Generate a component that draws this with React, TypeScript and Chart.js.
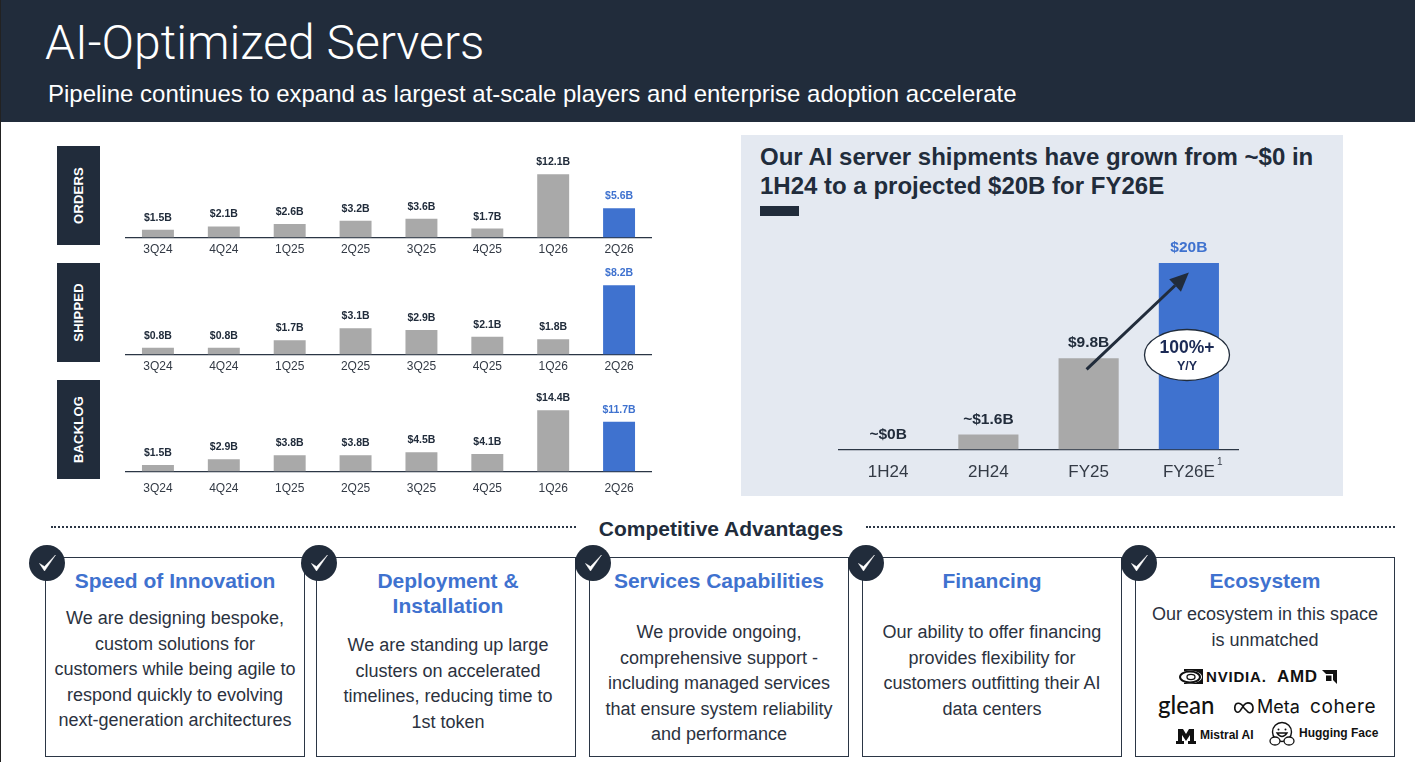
import React, { useEffect, useRef } from "react";
import { Chart, registerables } from "chart.js";

Chart.register(...registerables);

const quarters = ["3Q24", "4Q24", "1Q25", "2Q25", "3Q25", "4Q25", "1Q26", "2Q26"];
const ordersValues = [1.5, 2.1, 2.6, 3.2, 3.6, 1.7, 12.1, 5.6];
const ordersLabels = ["$1.5B", "$2.1B", "$2.6B", "$3.2B", "$3.6B", "$1.7B", "$12.1B", "$5.6B"];
const shippedValues = [0.8, 0.8, 1.7, 3.1, 2.9, 2.1, 1.8, 8.2];
const shippedLabels = ["$0.8B", "$0.8B", "$1.7B", "$3.1B", "$2.9B", "$2.1B", "$1.8B", "$8.2B"];
const backlogValues = [1.5, 2.9, 3.8, 3.8, 4.5, 4.1, 14.4, 11.7];
const backlogLabels = ["$1.5B", "$2.9B", "$3.8B", "$3.8B", "$4.5B", "$4.1B", "$14.4B", "$11.7B"];
const periods = ["1H24", "2H24", "FY25", "FY26E"];
const shipmentValues = [0, 1.6, 9.8, 20];
const shipmentLabels = ["~$0B", "~$1.6B", "$9.8B", "$20B"];

const NAVY = "#212c3b";
const BLUE = "#3f72cf";
const GREY = "#a9a9a9";
const FONT = '"Liberation Sans", Arial, sans-serif';

type BarProps = {
  left: number; top: number; width: number; height: number; axisH: number;
  cats: string[]; values: number[]; labels: string[]; yMax: number; barPct: number;
  labelFont: number; tickFont: number; labelGap: number; tickPad: number; arrow?: boolean;
};

function BarPanel(p: BarProps) {
  const ref = useRef<HTMLCanvasElement | null>(null);
  useEffect(() => {
    const last = p.values.length - 1;
    const chart = new Chart(ref.current!, {
      type: "bar",
      data: {
        labels: p.cats,
        datasets: [{
          data: p.values,
          backgroundColor: p.values.map((_, i) => (i === last ? BLUE : GREY)),
          barPercentage: p.barPct,
          categoryPercentage: 1,
        }],
      },
      options: {
        animation: false,
        responsive: false,
        devicePixelRatio: 1,
        layout: { padding: 0 },
        plugins: { legend: { display: false }, tooltip: { enabled: false } },
        scales: {
          y: { display: false, min: 0, max: p.yMax },
          x: {
            grid: { display: false, drawTicks: false },
            border: { color: "#2b3645", width: 1.3 },
            ticks: { color: "#333a45", font: { family: FONT, size: p.tickFont }, padding: p.tickPad, maxRotation: 0 },
            afterFit: (s: any) => { s.height = p.axisH; },
          },
        },
      },
      plugins: [{
        id: "valueLabels",
        afterDatasetsDraw(c: any) {
          const ctx = c.ctx;
          const meta = c.getDatasetMeta(0);
          ctx.save();
          ctx.textAlign = "center";
          ctx.textBaseline = "middle";
          ctx.font = `bold ${p.labelFont}px ${FONT}`;
          meta.data.forEach((bar: any, i: number) => {
            ctx.fillStyle = i === last ? BLUE : NAVY;
            ctx.fillText(p.labels[i], bar.x, bar.y - p.labelGap);
          });
          if (p.arrow) {
            const x = c.scales.x, y = c.scales.y;
            const x0 = x.getPixelForValue(2) - 2, y0 = y.getPixelForValue(8.6);
            const x1 = x.getPixelForValue(3), y1 = y.getPixelForValue(19);
            const ang = Math.atan2(y1 - y0, x1 - x0);
            const head = 19, hw = 8.5;
            const bx = x1 - head * Math.cos(ang), by = y1 - head * Math.sin(ang);
            ctx.strokeStyle = NAVY; ctx.fillStyle = NAVY; ctx.lineWidth = 3;
            ctx.beginPath(); ctx.moveTo(x0, y0); ctx.lineTo(bx, by); ctx.stroke();
            ctx.beginPath(); ctx.moveTo(x1, y1);
            ctx.lineTo(bx - hw * Math.sin(ang), by + hw * Math.cos(ang));
            ctx.lineTo(bx + hw * Math.sin(ang), by - hw * Math.cos(ang));
            ctx.closePath(); ctx.fill();
          }
          ctx.restore();
        },
      }],
    } as any);
    return () => chart.destroy();
  }, []);
  return <canvas ref={ref} width={p.width} height={p.height}
    style={{ position: "absolute", left: p.left, top: p.top, width: p.width, height: p.height }} />;
}

const abs = (left: number, top: number, extra: React.CSSProperties = {}): React.CSSProperties => ({
  position: "absolute", left, top, whiteSpace: "nowrap", ...extra,
});

function SideTag({ top, text }: { top: number; text: string }) {
  return (
    <div style={{ position: "absolute", left: 57, top, width: 43, height: 99, background: NAVY, display: "flex", alignItems: "center", justifyContent: "center" }}>
      <span style={{ color: "#fff", fontWeight: 700, fontSize: 13, transform: "rotate(-90deg)", whiteSpace: "nowrap", letterSpacing: 0.2 }}>{text}</span>
    </div>
  );
}

const cards = [
  { x: 45, cx: 47, dx: 0, title: ["Speed of Innovation"], body: ["We are designing bespoke,", "custom solutions for", "customers while being agile to", "respond quickly to evolving", "next-generation architectures"], bodyTop: 605 },
  { x: 316, cx: 319, dx: 2, title: ["Deployment &", "Installation"], body: ["We are standing up large", "clusters on accelerated", "timelines, reducing time to", "1st token"], bodyTop: 632 },
  { x: 589, cx: 593, dx: 0, title: ["Services Capabilities"], body: ["We provide ongoing,", "comprehensive support -", "including managed services", "that ensure system reliability", "and performance"], bodyTop: 619 },
  { x: 862, cx: 866, dx: 0, title: ["Financing"], body: ["Our ability to offer financing", "provides flexibility for", "customers outfitting their AI", "data centers"], bodyTop: 619 },
  { x: 1135, cx: 1139, dx: 0, title: ["Ecosystem"], body: ["Our ecosystem in this space", "is unmatched"], bodyTop: 601 },
];

function Card({ x, cx, dx, title, body, bodyTop }: typeof cards[number]) {
  return (
    <>
      <div style={{ position: "absolute", left: x, top: 557, width: 258, height: 198, border: "1.5px solid #2b3645" }} />
      {title.map((t, i) => (
        <div key={t} style={{ position: "absolute", left: x + dx, width: 260, top: 568 + i * 25, textAlign: "center", color: BLUE, fontWeight: 700, fontSize: 21, lineHeight: "25px" }}>{t}</div>
      ))}
      {body.map((t, i) => (
        <div key={t} style={{ position: "absolute", left: x + dx, width: 260, top: bodyTop + i * 25.6, textAlign: "center", color: "#2b3240", fontSize: 18, lineHeight: "26px", whiteSpace: "nowrap" }}>{t}</div>
      ))}
      <svg width={40} height={40} style={{ position: "absolute", left: cx - 20, top: 543 }}>
        <circle cx={20} cy={20} r={18} fill={NAVY} />
        <path d="M12.5 20.5 L17.5 28 L28.5 12 L17.5 23.5 Z" fill="#fff" stroke="#fff" strokeWidth={0.5} />
      </svg>
    </>
  );
}

export default function App() {
  useEffect(() => {
    document.body.style.margin = "0";
    document.body.style.background = "#fff";
  }, []);
  const small = { left: 125, width: 527, height: 120, axisH: 28.5, cats: quarters, barPct: 0.485, labelFont: 10.5, tickFont: 12, labelGap: 12, tickPad: 5 };
  const logo = "#111";
  return (
    <div style={{ position: "relative", width: 1415, height: 762, overflow: "hidden", fontFamily: FONT, background: "#fff" }}>
      <div style={{ position: "absolute", left: 0, top: 0, width: 1415, height: 122, background: NAVY }} />
      <div style={{ position: "absolute", left: 0, top: 0, width: 1, height: 762, background: "#222" }} />
      <div style={abs(45, 14, { color: "#fff", fontFamily: "Roboto", fontWeight: 300, fontSize: 48, lineHeight: "58px" })}>AI-Optimized Servers</div>
      <div style={abs(48, 79, { color: "#fff", fontSize: 24, lineHeight: "30px" })}>Pipeline continues to expand as largest at-scale players and enterprise adoption accelerate</div>

      <SideTag top={146} text="ORDERS" />
      <SideTag top={263} text="SHIPPED" />
      <SideTag top={380} text="BACKLOG" />

      <BarPanel {...small} top={146} values={ordersValues} labels={ordersLabels} yMax={17.5} />
      <BarPanel {...small} top={263} values={shippedValues} labels={shippedLabels} yMax={10.85} />
      <BarPanel {...small} top={380} tickPad={10} values={backlogValues} labels={backlogLabels} yMax={21.5} />

      <div style={{ position: "absolute", left: 741, top: 135, width: 602, height: 361, background: "#e4e9f1" }} />
      <div style={abs(760, 142, { color: NAVY, fontWeight: 700, fontSize: 24, lineHeight: "29px" })}>Our AI server shipments have grown from ~$0 in<br />1H24 to a projected $20B for FY26E</div>
      <div style={{ position: "absolute", left: 760, top: 206, width: 39, height: 10, background: NAVY }} />

      <BarPanel left={838} top={230} width={401} height={260} axisH={40.5} cats={periods} values={shipmentValues} labels={shipmentLabels}
        yMax={23.55} barPct={0.6} labelFont={15.5} tickFont={17} labelGap={15} tickPad={13} arrow />
      <div style={abs(1217, 456, { color: "#333a45", fontSize: 10 })}>1</div>
      <svg width={90} height={58} style={{ position: "absolute", left: 1142, top: 326 }}>
        <ellipse cx={45} cy={29} rx={42.5} ry={25.5} fill="#fff" stroke={NAVY} strokeWidth={1.3} />
      </svg>
      <div style={{ position: "absolute", left: 1142, width: 90, top: 337, textAlign: "center", color: "#1b2a55", fontWeight: 700, fontSize: 17.5, lineHeight: "20px" }}>100%+</div>
      <div style={{ position: "absolute", left: 1142, width: 90, top: 358, textAlign: "center", color: "#1b2a55", fontWeight: 700, fontSize: 12.5, lineHeight: "16px" }}>Y/Y</div>

      <div style={{ position: "absolute", left: 51, top: 526, width: 525, borderTop: "2px dotted #2b3645" }} />
      <div style={{ position: "absolute", left: 866, top: 526, width: 529, borderTop: "2px dotted #2b3645" }} />
      <div style={{ position: "absolute", left: 576, width: 290, top: 516, textAlign: "center", color: NAVY, fontWeight: 700, fontSize: 21, lineHeight: "26px" }}>Competitive Advantages</div>

      {cards.map((c) => <Card key={c.x} {...c} />)}

      <svg width={28} height={20} style={{ position: "absolute", left: 1177, top: 667 }}>
        <rect x={7} y={2} width={19} height={15} fill={logo} />
        <ellipse cx={13} cy={10} rx={12} ry={6.5} fill="#fff" />
        <ellipse cx={13} cy={10} rx={10} ry={5.5} fill="none" stroke={logo} strokeWidth={2} />
        <ellipse cx={14} cy={10} rx={4} ry={2.6} fill="none" stroke={logo} strokeWidth={1.3} />
      </svg>
      <div style={abs(1206, 668, { color: logo, fontWeight: 700, fontSize: 15, lineHeight: "18px", letterSpacing: 0.8 })}>NVIDIA.</div>
      <div style={abs(1277, 668, { color: logo, fontWeight: 700, fontSize: 17, lineHeight: "18px", letterSpacing: 0.6 })}>AMD</div>
      <svg width={16} height={15} style={{ position: "absolute", left: 1322, top: 670 }}>
        <path d="M0 0 H15 V14 L11 10 V4 H4 Z M4 5.5 L9.5 5.5 V11 H4 Z" fill={logo} />
      </svg>
      <div style={abs(1158, 692, { color: logo, fontSize: 24, lineHeight: "26px", fontFamily: "Lato", fontWeight: 500 })}>glean</div>
      <svg width={22} height={14} style={{ position: "absolute", left: 1233, top: 701 }}>
        <path d="M11 7 C8 1 3 1 2 5 C1 10 4 13 7 10 L11 4 C14 0 20 2 20 7 C20 12 16 13 14 10 Z" fill="none" stroke={logo} strokeWidth={1.6} />
      </svg>
      <div style={abs(1257, 697, { color: logo, fontSize: 18, lineHeight: "20px", fontFamily: "Inter" })}>Meta</div>
      <div style={abs(1310, 697, { color: logo, fontSize: 19, lineHeight: "20px", fontFamily: "Inter", letterSpacing: 0.6 })}>cohere</div>
      <svg width={20} height={16} style={{ position: "absolute", left: 1176, top: 728 }}>
        <path d="M2 1 H7 L10 6 L13 1 H18 V13 H20 V16 H12 V13 H14 V7 L10 13 L6 7 V13 H8 V16 H0 V13 H2 Z" fill={logo} />
      </svg>
      <div style={abs(1200, 728, { color: logo, fontWeight: 700, fontSize: 12, lineHeight: "14px" })}>Mistral AI</div>
      <svg width={26} height={26} style={{ position: "absolute", left: 1269, top: 721 }}>
        <circle cx={13} cy={11} r={9.5} fill="#fff" stroke={logo} strokeWidth={1.4} />
        <path d="M8 12 Q13 19 18 12 Z" fill="none" stroke={logo} strokeWidth={1.3} />
        <circle cx={9.5} cy={8.5} r={1} fill={logo} />
        <circle cx={16.5} cy={8.5} r={1} fill={logo} />
        <ellipse cx={6} cy={20} rx={5} ry={4} fill="#fff" stroke={logo} strokeWidth={1.3} />
        <ellipse cx={20} cy={20} rx={5} ry={4} fill="#fff" stroke={logo} strokeWidth={1.3} />
      </svg>
      <div style={abs(1299, 726, { color: logo, fontWeight: 700, fontSize: 12, lineHeight: "14px" })}>Hugging Face</div>
    </div>
  );
}
